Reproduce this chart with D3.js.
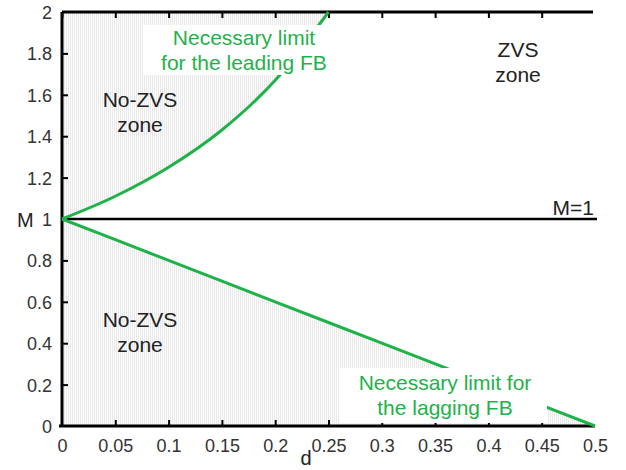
<!DOCTYPE html>
<html>
<head>
<meta charset="utf-8">
<script src="https://cdn.jsdelivr.net/npm/d3@7"></script>
<style>
  body { margin: 0; background: #fff; }
  text { font-family: "Liberation Sans", Arial, sans-serif; }
</style>
</head>
<body>
<svg id="chart" width="626" height="470"></svg>
<script>
// values
let leadD = [0, 0.05, 0.1, 0.15, 0.2, 0.25];
let leadM = [1, 1.11, 1.25, 1.43, 1.67, 2];
let lagD = [0, 0.1, 0.2, 0.3, 0.4, 0.5];
let lagM = [1, 0.8, 0.6, 0.4, 0.2, 0];
let xTicks = [0, 0.05, 0.1, 0.15, 0.2, 0.25, 0.3, 0.35, 0.4, 0.45, 0.5];
let yTicks = [0, 0.2, 0.4, 0.6, 0.8, 1, 1.2, 1.4, 1.6, 1.8, 2];

let green = "#1fb24a";
let svg = d3.select("#chart");

let x = d3.scaleLinear().domain([0, 0.5]).range([62, 595]);
let y = d3.scaleLinear().domain([0, 2]).range([426, 12]);

let lead = leadD.map((d, i) => [d, leadM[i]]);
let lag = lagD.map((d, i) => [d, lagM[i]]);

// hatch pattern for the no-ZVS zones
let pat = svg.append("defs").append("pattern")
    .attr("id", "hatch")
    .attr("patternUnits", "userSpaceOnUse")
    .attr("width", 2).attr("height", 2);
pat.append("rect").attr("width", 2).attr("height", 2).attr("fill", "#fcfcfc");
pat.append("rect").attr("width", 1).attr("height", 2).attr("fill", "#eaeaea");

let area = d3.area()
    .x(d => x(d[0]))
    .y0(d => y(d[1]))
    .curve(d3.curveMonotoneX);

svg.append("path")
    .datum(lead)
    .attr("fill", "url(#hatch)")
    .attr("d", area.y1(y(2)));

svg.append("path")
    .datum(lag)
    .attr("fill", "url(#hatch)")
    .attr("d", area.y1(y(0)));

// axes
let axisBottom = svg.append("g")
    .attr("transform", `translate(0, ${y(0)})`)
    .call(d3.axisBottom(x).tickValues(xTicks).tickSize(-6).tickPadding(13)
        .tickFormat(d => d3.format("")(d)));
let axisTop = svg.append("g")
    .attr("transform", `translate(0, ${y(2)})`)
    .call(d3.axisTop(x).tickValues(xTicks.slice(0, 10)).tickSize(-6).tickFormat(""));
let axisLeft = svg.append("g")
    .attr("transform", `translate(${x(0)}, 0)`)
    .call(d3.axisLeft(y).tickValues(yTicks).tickSize(-6).tickPadding(10)
        .tickFormat(d => d3.format("")(d)));

[axisBottom, axisTop, axisLeft].forEach(g => {
    g.select(".domain").attr("stroke", "#000").attr("stroke-width", 3);
    g.selectAll(".tick line").attr("stroke", "#000").attr("stroke-width", 2);
    g.selectAll(".tick text")
        .attr("fill", "#333")
        .style("font-size", "18px")
        .style("font-family", "Liberation Sans, Arial, sans-serif");
});
axisTop.select(".domain").attr("d", `M${x(0)},0H${x(0.5) - 2}`);
axisBottom.select(".domain").attr("d", `M${x(0) - 3},0H${x(0.5)}`);
axisLeft.select(".domain").attr("d", `M0,${y(2)}V${y(0)}`);
axisLeft.selectAll(".tick text").attr("dy", "0.36em");
axisLeft.selectAll(".tick").filter(d => d === 0 || d === 2).select("line").remove();
axisBottom.selectAll(".tick").filter(d => d === 0 || d === 0.5).select("line").remove();

// M = 1 line
svg.append("line")
    .attr("x1", x(0)).attr("x2", x(0.5) + 2)
    .attr("y1", y(1)).attr("y2", y(1))
    .attr("stroke", "#000").attr("stroke-width", 2.5);

// limit curves
let line = d3.line().x(d => x(d[0])).y(d => y(d[1])).curve(d3.curveMonotoneX);
svg.append("path").datum(lead).attr("d", line)
    .attr("fill", "none").attr("stroke", green).attr("stroke-width", 3);
svg.append("path").datum(lag).attr("d", line)
    .attr("fill", "none").attr("stroke", green).attr("stroke-width", 3);

// white boxes behind the limit labels (they hide part of the curves)
svg.append("rect").attr("x", 143).attr("y", 25).attr("width", 190).attr("height", 50).attr("fill", "#fff");
svg.append("rect").attr("x", 340).attr("y", 368).attr("width", 207).attr("height", 55).attr("fill", "#fff");

// labels
function label(lines, cx, y0, color, anchor) {
    let t = svg.append("text")
        .attr("text-anchor", anchor || "middle")
        .attr("fill", color)
        .style("font-size", "21px");
    lines.forEach((s, i) => {
        t.append("tspan").attr("x", cx).attr("y", y0 + i * 25).text(s);
    });
}
label(["Necessary limit", "for the leading FB"], 244, 45, green);
label(["Necessary limit for", "the lagging FB"], 445, 390, green);
label(["No-ZVS", "zone"], 140, 107, "#222");
label(["No-ZVS", "zone"], 140, 327, "#222");
label(["ZVS", "zone"], 518, 57, "#222");
label(["M=1"], 594, 215, "#222", "end");

svg.append("text").attr("x", 17).attr("y", 227).attr("fill", "#222")
    .style("font-size", "20px").text("M");
svg.append("text").attr("x", 306).attr("y", 465).attr("fill", "#222")
    .attr("text-anchor", "middle").style("font-size", "20px").text("d");
</script>
</body>
</html>
